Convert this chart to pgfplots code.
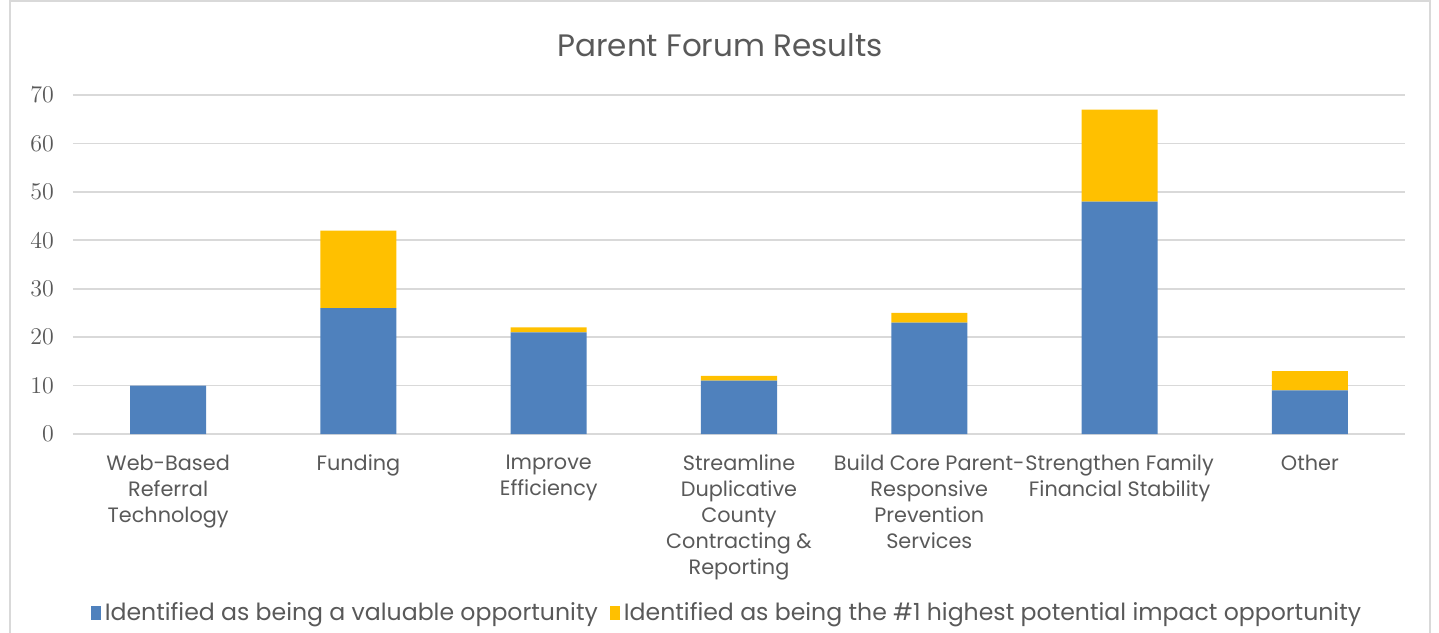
\documentclass[border=0pt]{standalone}
\usepackage{pgfplots}
\pgfplotsset{compat=1.18}
\usepackage{fontspec}
\setmainfont{Poppins}
\definecolor{txt}{HTML}{595959}
\definecolor{gridc}{HTML}{D9D9D9}
\definecolor{blu}{HTML}{4F81BD}
\definecolor{yel}{HTML}{FFC000}
\begin{document}
\begin{tikzpicture}
\useasboundingbox (-36.5pt,-99pt) rectangle (683pt,217pt);
\draw[gridc, line width=1.2pt] (-31.5pt,-100pt) -- (-31.5pt,216.5pt) -- (678.5pt,216.5pt) -- (678.5pt,-100pt);
\begin{axis}[
  at={(0pt,0pt)}, anchor=south west,
  scale only axis, width=666pt, height=169.5pt,
  ybar stacked, bar width=38pt,
  xmin=-0.5, xmax=6.5, ymin=0, ymax=70,
  xtick=data,
  xticklabels={{Web-Based\\Referral\\Technology},{Funding},{Improve\\Efficiency},{Streamline\\Duplicative\\County\\Contracting \&\\Reporting},{Build Core Parent-\\Responsive\\Prevention\\Services},{Strengthen Family\\Financial Stability},{Other}},
  xticklabel style={align=center, font=\fontsize{10.4}{13}\selectfont, text=txt, anchor=north, yshift=-7pt},
  ytick={0,10,...,70},
  yticklabel style={font=\fontsize{12.5}{14}\selectfont, text=txt, xshift=-6pt},
  xmajorgrids=false, ymajorgrids, grid style={gridc, line width=0.9pt},
  axis line style={draw=none},
  xtick style={draw=none}, ytick style={draw=none},
  major tick length=0pt,
  legend style={at={(327.5pt,-89.5pt)}, anchor=center, draw=none, fill=none, legend columns=2,
    font=\fontsize{11.8}{14}\selectfont, text=txt,
    /tikz/every even column/.append style={column sep=4pt}},
  legend image code/.code={\fill[#1] (0pt,-3.5pt) rectangle (5pt,3.5pt);},
  legend cell align=left,
]
\addplot[fill=blu, draw=none] coordinates {(0,10) (1,26) (2,21) (3,11) (4,23) (5,48) (6,9)};
\addplot[fill=yel, draw=none] coordinates {(0,0) (1,16) (2,1) (3,1) (4,2) (5,19) (6,4)};
\legend{Identified as being a valuable opportunity, Identified as being the \#1 highest potential impact opportunity}
\end{axis}
\node[text=txt, font=\fontsize{15.5}{18}\selectfont] at (323.5pt,194.5pt) {Parent Forum Results};
\end{tikzpicture}
\end{document}
